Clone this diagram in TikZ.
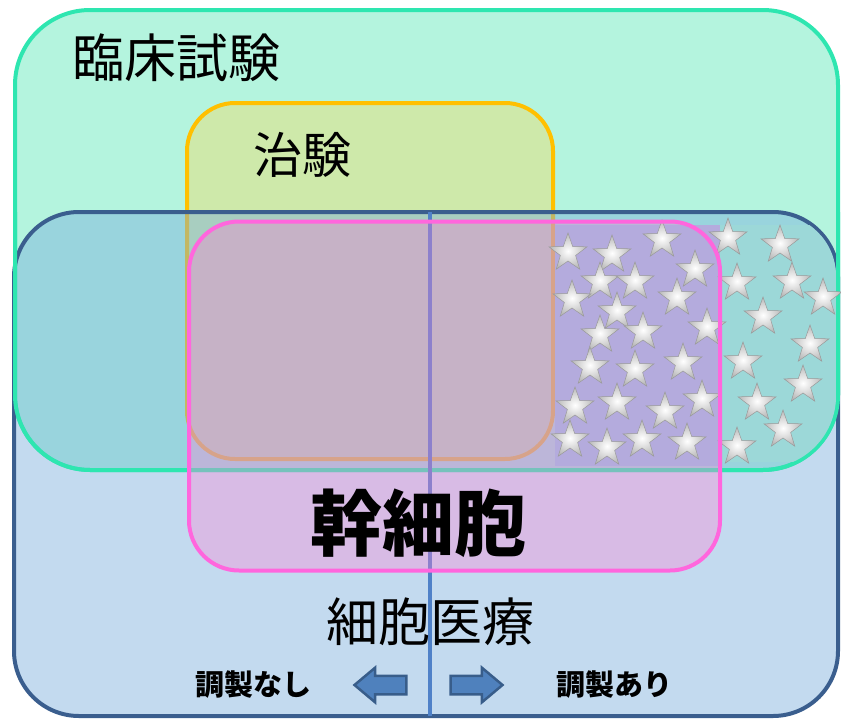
\documentclass[tikz,border=0pt]{standalone}
\usepackage{fontspec}
\newfontfamily\jp{Noto Sans CJK JP}
\usetikzlibrary{shapes.geometric,shapes.arrows}
\definecolor{trialline}{HTML}{2EE6B0}
\definecolor{trialfill}{HTML}{B4F4DE}
\definecolor{chikenline}{HTML}{FFC000}
\definecolor{chikenfill}{HTML}{FFD54A}
\definecolor{cellline}{HTML}{3A5E8E}
\definecolor{cellfill}{HTML}{7AAEDC}
\definecolor{stemline}{HTML}{FF66DD}
\definecolor{stemfill}{HTML}{FF80D4}
\definecolor{divline}{HTML}{4F81C8}
\definecolor{purplebg}{HTML}{B4ABDD}
\definecolor{tealbg}{HTML}{9CD8D8}
\definecolor{arrowfill}{HTML}{4F81BD}
\definecolor{arrowline}{HTML}{385D8A}
\begin{document}
\begin{tikzpicture}[x=1pt,y=-1pt,
  rbox/.style={rectangle, inner sep=0pt, line width=4pt},
  starnode/.style={star, star points=5, star point ratio=2.5, minimum size=40pt, inner sep=0pt,
    shading=radial, inner color=white, outer color=gray!55, draw=gray!80, line width=0.5pt},
  blockarrow/.style={single arrow, minimum height=52pt, minimum width=34pt, inner sep=8pt,
    single arrow head extend=8pt, single arrow tip angle=80, fill=arrowfill, draw=arrowline, line width=2.5pt},
  lbl/.style={font=\jp, text=black, inner sep=0pt}
]
\useasboundingbox (0,0) rectangle (841,720);
% clinical trials
\node[rbox, rounded corners=75pt, minimum width=823pt, minimum height=460pt, fill=trialfill, draw=trialline] (trial) at (426.5,240) {};
% chiken
\node[rbox, rounded corners=48pt, minimum width=366pt, minimum height=356pt, fill=chikenfill, fill opacity=0.35, draw=chikenline] (chiken) at (370,281) {};
% cell medicine
\node[rbox, rounded corners=65pt, minimum width=824pt, minimum height=504pt, fill=cellfill, fill opacity=0.45, draw=cellline] (cellmed) at (426,464) {};
% green bottom border over blue
\draw[trialline, line width=4pt, rounded corners=75pt] (15,212) -- (15,470) -- (838,470) -- (838,212);
% divider
\coordinate (divtop) at (430,212);
\coordinate (divbot) at (430,716);
\draw[divline, line width=4pt] (divtop) -- (divbot);
% stem cell fill
\node[rbox, rounded corners=50pt, minimum width=531pt, minimum height=349pt, fill=stemfill, fill opacity=0.35] (stemfillnode) at (454.5,396) {};
% star backgrounds
\begin{scope}
  \clip[rounded corners=72pt] (17,12) rectangle (836,468);
  \clip[rounded corners=62pt] (16,214) rectangle (836,714);
  \fill[purplebg] (555,225) rectangle (720,466);
  \fill[tealbg] (720,225) rectangle (836,462);
\end{scope}
% stars
\foreach \x/\y [count=\i] in {568/253,612/255,662/240,600/282,635/282,695/270,572/300,617/312,677/298,600/335,643/332,707/328,590/367,635/370,683/363,575/407,617/403,665/412,702/400,570/440,607/448,642/440,687/443,728/238,780/245,737/283,792/282,823/298,763/317,810/345,743/362,803/385,757/403,783/430,737/447}
  \node[starnode] (s\i) at (\x,\y) {};
% stem cell border
\node[rbox, rounded corners=50pt, minimum width=531pt, minimum height=349pt, draw=stemline] (stem) at (454.5,396) {};
% labels
\node[lbl, font=\jp\fontsize{52}{52}\selectfont] (ltrial) at (176,58) {臨床試験};
\node[lbl, font=\jp\fontsize{49}{49}\selectfont] (lchiken) at (302,155) {治験};
\node[lbl, font=\jp\bfseries\fontsize{72}{72}\selectfont] (lstem) at (418,523) {幹細胞};
\node[lbl, font=\jp\fontsize{52}{52}\selectfont] (lcell) at (430,622) {細胞医療};
\node[lbl, font=\jp\bfseries\fontsize{29}{29}\selectfont] (lnone) at (253,685) {調製なし};
\node[lbl, font=\jp\bfseries\fontsize{29}{29}\selectfont] (lwith) at (614,685) {調製あり};
% arrows
\node[blockarrow, shape border rotate=180] (aleft) at (386,685) {};
\node[blockarrow] (aright) at (471,685) {};
\end{tikzpicture}
\end{document}
